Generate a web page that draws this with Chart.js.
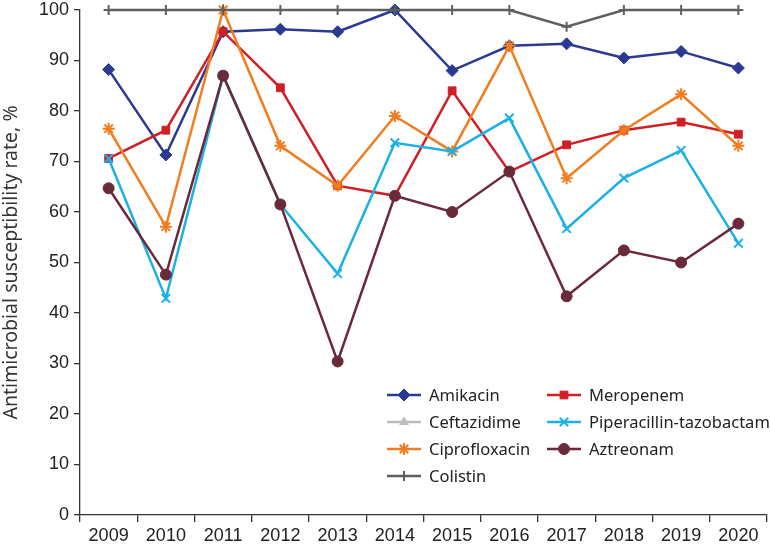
<!DOCTYPE html>
<html><head><meta charset="utf-8">
<script src="https://cdn.jsdelivr.net/npm/chart.js@4/dist/chart.umd.min.js"></script>
<style>html,body{margin:0;padding:0;background:#fff;}#wrap{width:770px;height:547px;position:relative;}</style>
</head><body><div id="wrap"><canvas id="c" width="770" height="547"></canvas></div>
<script>
const years = ["2009","2010","2011","2012","2013","2014","2015","2016","2017","2018","2019","2020"];
const amikacin = [88.2,71.3,95.7,96.2,95.7,100,88.0,92.9,93.3,90.5,91.8,88.5];
const meropenem = [70.6,76.2,95.7,84.6,65.2,63.2,84.0,68.0,73.3,76.2,77.8,75.4];
const ceftazidime = [null,null,null,null,null,null,null,null,null,null,null,null];
const piperacillin = [70.6,42.9,87.0,61.5,47.8,73.7,72.0,78.6,56.7,66.7,72.2,53.8];
const ciprofloxacin = [76.5,57.1,100,73.1,65.2,79.0,72.0,92.9,66.7,76.2,83.3,73.1];
const aztreonam = [64.7,47.6,87.0,61.5,30.4,63.2,60.0,68.0,43.3,52.4,50.0,57.7];
const colistin = [100,100,100,100,100,100,100,100,96.7,100,100,100];
const yTicks = [0,10,20,30,40,50,60,70,80,90,100];

function ds(label, data, color, style, radius, pbw){
  return {label, data, borderColor:color, backgroundColor:color, pointStyle:style,
    pointRadius:radius, pointHoverRadius:radius, borderWidth:2.5, pointBorderWidth:pbw, tension:0, clip:false};
}
const datasets = [
  ds("Colistin", colistin, "#5f5f5f", "cross", 5, 2),
  ds("Ceftazidime", ceftazidime, "#bdbdbd", "triangle", 5, 1),
  ds("Aztreonam", aztreonam, "#6a2a3a", "circle", 5.5, 1),
  ds("Piperacillin-tazobactam", piperacillin, "#1cb1e6", "crossRot", 6, 2),
  ds("Ciprofloxacin", ciprofloxacin, "#f07d1e", "star", 6, 2),
  ds("Meropenem", meropenem, "#d11f26", "rect", 5.5, 1),
  ds("Amikacin", amikacin, "#2a3a92", "rectRot", 6, 1)
];
const legendCols = [["Amikacin","Ceftazidime","Ciprofloxacin","Colistin"],["Meropenem","Piperacillin-tazobactam","Aztreonam"]];

const stretchPlugin = {
  id:"stretchRight",
  afterLayout(chart){
    const x = chart.scales.x;
    const R = 767;
    x.right = R; x.width = R - x.left;
    if (x.configure) x.configure();
    chart.chartArea.right = R; chart.chartArea.width = R - chart.chartArea.left;
  }
};

const legendPlugin = {
  id:"customLegend",
  afterDraw(chart){
    const ctx = chart.ctx;
    const colX = [387, 547];
    const rowY = [395, 422, 449, 476];
    ctx.save();
    ctx.textBaseline = "middle";
    legendCols.forEach((col, ci)=>{
      col.forEach((name, ri)=>{
        const d = chart.data.datasets.find(x=>x.label===name);
        const x0 = colX[ci], y = rowY[ri];
        ctx.strokeStyle = d.borderColor; ctx.fillStyle = d.borderColor; ctx.lineWidth = 2.5;
        ctx.beginPath(); ctx.moveTo(x0, y); ctx.lineTo(x0+34, y); ctx.stroke();
        ctx.lineWidth = d.pointBorderWidth;
        Chart.helpers.drawPoint(ctx, {pointStyle:d.pointStyle, radius:d.pointRadius, borderWidth:d.pointBorderWidth, rotation:0}, x0+17, y);
        ctx.font = "16.5px 'Noto Sans', 'Liberation Sans', sans-serif";
        ctx.fillStyle = "#222";
        ctx.fillText(name, x0+42, y+1);
      });
    });
    ctx.restore();
  }
};

new Chart(document.getElementById("c"), {
  type:"line",
  data:{labels:years, datasets},
  options:{
    responsive:false, animation:false,
    layout:{padding:{top:10,right:0,left:0,bottom:0}},
    plugins:{legend:{display:false}, tooltip:{enabled:false}},
    scales:{
      x:{offset:true,
        grid:{offset:true, display:true, drawOnChartArea:false, drawTicks:true, tickLength:7, color:"#333", lineWidth:1.3},
        border:{color:"#333", width:1.3},
        ticks:{color:"#222", font:{family:"'Liberation Sans', Arial, sans-serif", size:18}, padding:3, maxRotation:0, autoSkip:false},
        afterFit(s){ s.height = 32; s.paddingLeft = 0; s.paddingRight = 0; }
      },
      y:{min:0,max:100,
        afterBuildTicks(s){ s.ticks = yTicks.map(v=>({value:v})); },
        grid:{display:true, drawOnChartArea:false, drawTicks:true, tickLength:6, color:"#333", lineWidth:1.3},
        border:{color:"#333", width:1.3},
        ticks:{color:"#222", font:{family:"'Liberation Sans', Arial, sans-serif", size:18}, padding:5},
        title:{display:true, text:"Antimicrobial susceptibility rate, %", color:"#333",
          font:{family:"'Noto Sans', 'Liberation Sans', sans-serif", size:19.5}, padding:{top:0,bottom:2}},
        afterFit(s){ s.width = 80; s.paddingTop = 0; s.paddingBottom = 0; }
      }
    }
  },
  plugins:[stretchPlugin, legendPlugin]
});
</script></body></html>
